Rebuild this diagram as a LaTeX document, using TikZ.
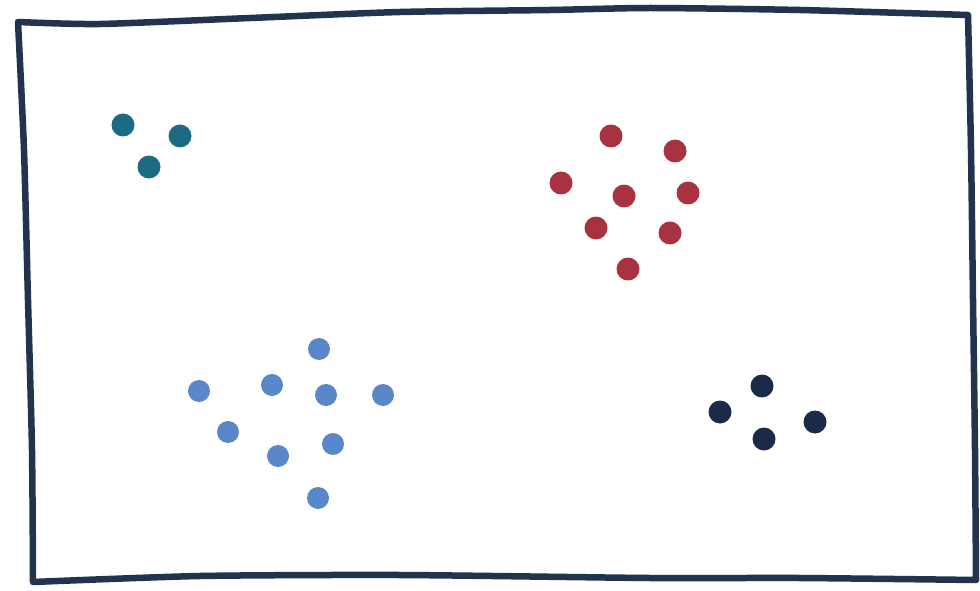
\documentclass[tikz,border=0pt]{standalone}
\definecolor{frame}{HTML}{22324F}
\definecolor{tealdot}{HTML}{1D6A85}
\definecolor{reddot}{HTML}{A8323F}
\definecolor{bluedot}{HTML}{5A86CA}
\definecolor{navydot}{HTML}{1C2A4A}
\begin{document}
\begin{tikzpicture}[x=1pt,y=-1pt,
  dot/.style={circle,inner sep=0pt,minimum size=23pt},
  tdot/.style={dot,fill=tealdot},
  rdot/.style={dot,fill=reddot},
  bdot/.style={dot,fill=bluedot,minimum size=22pt},
  ndot/.style={dot,fill=navydot}]
\useasboundingbox (0,0) rectangle (980,591);
\draw[frame,line width=6.5pt,line join=round,line cap=round]
  plot[smooth,tension=0.4] coordinates {(18,22) (100,24) (250,18) (400,12) (550,10) (650,8) (800,10) (968,15)}
  -- plot[smooth,tension=0.4] coordinates {(968,15) (971,150) (973,300) (975,450) (976,580)}
  -- plot[smooth,tension=0.4] coordinates {(976,580) (800,578) (650,578) (400,575) (200,576) (33,582)}
  -- plot[smooth,tension=0.4] coordinates {(33,582) (32,450) (28,300) (24,150) (18,22)};
% teal
\node[tdot] (t1) at (123,125) {};
\node[tdot] (t2) at (180,136) {};
\node[tdot] (t3) at (149,167) {};
% red
\node[rdot] (r1) at (611,136) {};
\node[rdot] (r2) at (675,151) {};
\node[rdot] (r3) at (561,183) {};
\node[rdot] (r4) at (624,196) {};
\node[rdot] (r5) at (688,193) {};
\node[rdot] (r6) at (596,228) {};
\node[rdot] (r7) at (670,233) {};
\node[rdot] (r8) at (628,269) {};
% blue
\node[bdot] (b1) at (319,349) {};
\node[bdot] (b2) at (199,391) {};
\node[bdot] (b3) at (272,385) {};
\node[bdot] (b4) at (326,395) {};
\node[bdot] (b5) at (383,395) {};
\node[bdot] (b6) at (228,432) {};
\node[bdot] (b7) at (278,456) {};
\node[bdot] (b8) at (333,444) {};
\node[bdot] (b9) at (318,498) {};
% navy
\node[ndot] (n1) at (762,386) {};
\node[ndot] (n2) at (720,412) {};
\node[ndot] (n3) at (815,422) {};
\node[ndot] (n4) at (764,439) {};
\end{tikzpicture}
\end{document}
